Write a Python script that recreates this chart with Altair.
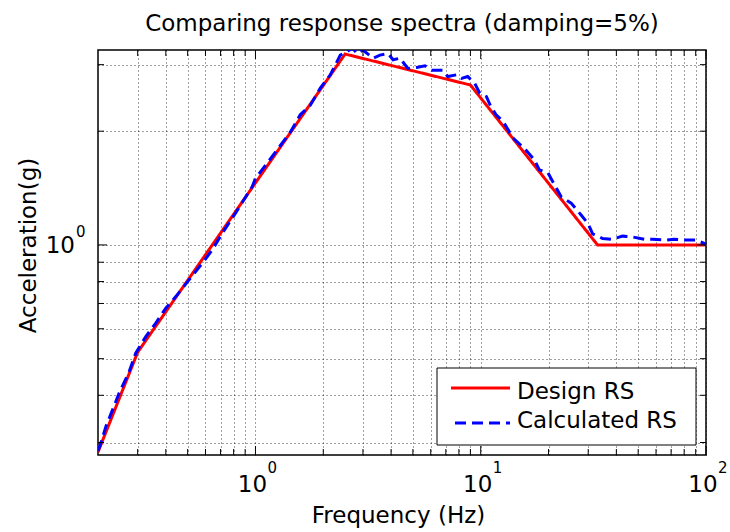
import altair as alt
import pandas as pd

TITLE = "Comparing response spectra (damping=5%)"
X_TITLE = "Frequency (Hz)"
Y_TITLE = "Acceleration(g)"
SERIES = ["Design RS", "Calculated RS"]
COLORS = ["#ff0000", "#0000ff"]

# Design response spectrum (piecewise log-log)
design_freq = [0.2, 0.3, 2.5, 9.0, 33.0, 100.0]
design_acc = [0.283, 0.52, 3.2, 2.65, 1.0, 1.0]

# Calculated response spectrum
calc_freq = [0.2, 0.206, 0.217, 0.232, 0.248, 0.275, 0.294, 0.326, 0.361, 0.40,
             0.443, 0.507, 0.581, 0.643, 0.712, 0.815, 0.967, 1.0, 1.2, 1.43,
             1.58, 1.75, 1.94, 2.15, 2.38, 2.55, 2.7, 2.82, 3.0, 3.33,
             3.57, 3.88, 4.08, 4.38, 4.75, 5.2, 5.65, 6.05, 6.79, 7.14,
             7.8, 8.22, 8.75, 9.4, 9.9, 10.6, 11.1, 11.7, 12.6, 13.9,
             15.0, 15.9, 17.3, 18.2, 19.9, 21.3, 22.8, 25.2, 27.9, 29.9,
             31.4, 34.8, 38.4, 42.6, 47.1, 53.2, 57.7, 66.3, 72.1, 81.3,
             90.0, 98.0, 100.0]
calc_acc = [0.285, 0.299, 0.331, 0.366, 0.405, 0.462, 0.517, 0.572, 0.621, 0.68,
            0.73, 0.808, 0.895, 0.97, 1.074, 1.213, 1.426, 1.50, 1.73, 1.99,
            2.21, 2.34, 2.60, 2.82, 3.18, 3.25, 3.32, 3.21, 3.28, 3.12,
            3.18, 3.21, 3.09, 3.12, 2.93, 2.95, 2.98, 2.90, 2.90, 2.79,
            2.82, 2.76, 2.79, 2.68, 2.52, 2.47, 2.32, 2.21, 2.12, 1.92,
            1.84, 1.78, 1.68, 1.58, 1.55, 1.44, 1.34, 1.29, 1.20, 1.14,
            1.07, 1.04, 1.035, 1.055, 1.05, 1.035, 1.035, 1.03, 1.035, 1.03,
            1.03, 1.01, 1.0]

x_domain = [0.2, 100]
y_domain = [0.278, 3.28]
x_grid = [0.3, 0.4, 0.5, 0.6, 0.7, 0.8, 0.9, 1, 2, 3, 4, 5, 6, 7, 8, 9,
          10, 20, 30, 40, 50, 60, 70, 80, 90, 100]
x_major = [1, 10, 100]
x_exp = ["0", "1", "2"]
y_grid = [0.3, 0.4, 0.5, 0.6, 0.7, 0.8, 0.9, 1, 2, 3]
y_major = [1]
y_exp = ["0"]
BASE = "10"

W, H = 608, 405
FONT = "DejaVu Sans"
FS = 23
FS_SUP = 15
BLACK = "#000000"

x_scale = alt.Scale(type="log", domain=x_domain, nice=False)
y_scale = alt.Scale(type="log", domain=y_domain, nice=False)

grid_style = dict(grid=True, gridDash=[1, 3], gridColor=BLACK, gridOpacity=0.75,
                  gridWidth=1, ticks=False, domain=False, labels=False,
                  titleFont=FONT, titleFontSize=FS, titleFontWeight="normal",
                  titleColor=BLACK)

x_axis = alt.Axis(values=x_grid, title=X_TITLE, titleX=300, titleY=60,
                  titleBaseline="middle", titleAlign="center", **grid_style)
y_axis = alt.Axis(values=y_grid, title=Y_TITLE, titleX=-70, titleY=195, titleAngle=-90,
                  titleBaseline="middle", titleAlign="center", **grid_style)

color = alt.Color("series:N", scale=alt.Scale(domain=SERIES, range=COLORS), legend=None)
dash = alt.StrokeDash("series:N", scale=alt.Scale(domain=SERIES, range=[[1, 0], [11, 6]]),
                      legend=None)

df_design = pd.DataFrame({"freq": design_freq, "acc": design_acc, "series": SERIES[0]})
df_calc = pd.DataFrame({"freq": calc_freq, "acc": calc_acc, "series": SERIES[1]})

design_line = alt.Chart(df_design).mark_line(strokeWidth=3, clip=True).encode(
    x=alt.X("freq:Q", scale=x_scale, axis=x_axis),
    y=alt.Y("acc:Q", scale=y_scale, axis=y_axis),
    color=color, strokeDash=dash)
calc_line = alt.Chart(df_calc).mark_line(strokeWidth=3, clip=True).encode(
    x=alt.X("freq:Q", scale=x_scale), y=alt.Y("acc:Q", scale=y_scale),
    color=color, strokeDash=dash)

# inward tick marks on all four sides
df_xt = pd.DataFrame({"freq": [v for v in x_grid if v not in x_major]})
df_xT = pd.DataFrame({"freq": x_major})
df_yt = pd.DataFrame({"acc": [v for v in y_grid if v not in y_major]})
df_yT = pd.DataFrame({"acc": y_major})


def xticks(df, ln):
    c = alt.Chart(df)
    bottom = c.mark_rule(color=BLACK, strokeWidth=1).encode(
        x=alt.X("freq:Q", scale=x_scale), y=alt.value(H), y2=alt.value(H - ln))
    top = c.mark_rule(color=BLACK, strokeWidth=1).encode(
        x=alt.X("freq:Q", scale=x_scale), y=alt.value(0), y2=alt.value(ln))
    return [bottom, top]


def yticks(df, ln):
    c = alt.Chart(df)
    left = c.mark_rule(color=BLACK, strokeWidth=1).encode(
        y=alt.Y("acc:Q", scale=y_scale), x=alt.value(0), x2=alt.value(ln))
    right = c.mark_rule(color=BLACK, strokeWidth=1).encode(
        y=alt.Y("acc:Q", scale=y_scale), x=alt.value(W), x2=alt.value(W - ln))
    return [left, right]


# tick labels 10^n as base + superscript
df_xl = pd.DataFrame({"freq": x_major, "base": BASE, "exp": x_exp})
df_yl = pd.DataFrame({"acc": y_major, "base": BASE, "exp": y_exp})

x_base_lbl = alt.Chart(df_xl).mark_text(font=FONT, fontSize=FS, color=BLACK, align="center",
                                        baseline="alphabetic", dx=-3).encode(
    x=alt.X("freq:Q", scale=x_scale), y=alt.value(H + 37), text="base:N")
x_exp_lbl = alt.Chart(df_xl).mark_text(font=FONT, fontSize=FS_SUP, color=BLACK, align="left",
                                       baseline="alphabetic", dx=12).encode(
    x=alt.X("freq:Q", scale=x_scale), y=alt.value(H + 18), text="exp:N")
y_base_lbl = alt.Chart(df_yl).mark_text(font=FONT, fontSize=FS, color=BLACK, align="right",
                                        baseline="alphabetic", dy=8).encode(
    y=alt.Y("acc:Q", scale=y_scale), x=alt.value(-23), text="base:N")
y_exp_lbl = alt.Chart(df_yl).mark_text(font=FONT, fontSize=FS_SUP, color=BLACK, align="left",
                                       baseline="alphabetic", dy=-8).encode(
    y=alt.Y("acc:Q", scale=y_scale), x=alt.value(-22), text="exp:N")

# legend box (drawn manually so the line samples are long like the original)
df_leg = pd.DataFrame({"series": SERIES, "row": [0, 1]})
leg_box = alt.Chart(pd.DataFrame({"k": [0]})).mark_rect(
    fill="#ffffff", stroke=BLACK, strokeWidth=1).encode(
    x=alt.value(339), x2=alt.value(598), y=alt.value(318), y2=alt.value(395))
leg_red = alt.Chart(df_leg.iloc[[0]]).mark_rule(strokeWidth=3).encode(
    x=alt.value(353), x2=alt.value(412), y=alt.value(338), color=color, strokeDash=dash)
leg_blue = alt.Chart(df_leg.iloc[[1]]).mark_rule(strokeWidth=3).encode(
    x=alt.value(357), x2=alt.value(412), y=alt.value(373), color=color, strokeDash=dash)
leg_t1 = alt.Chart(df_leg.iloc[[0]]).mark_text(
    font=FONT, fontSize=FS, color=BLACK, align="left", baseline="alphabetic").encode(
    x=alt.value(419), y=alt.value(349), text="series:N")
leg_t2 = alt.Chart(df_leg.iloc[[1]]).mark_text(
    font=FONT, fontSize=FS, color=BLACK, align="left", baseline="alphabetic").encode(
    x=alt.value(419), y=alt.value(378), text="series:N")

layers = [design_line, calc_line] + xticks(df_xt, 6) + xticks(df_xT, 9) + \
    yticks(df_yt, 6) + yticks(df_yT, 9) + \
    [x_base_lbl, x_exp_lbl, y_base_lbl, y_exp_lbl,
     leg_box, leg_red, leg_blue, leg_t1, leg_t2]

chart = alt.layer(*layers).properties(
    width=W, height=H,
    title=alt.TitleParams(TITLE, font=FONT, fontSize=FS, fontWeight="normal",
                          color=BLACK, anchor="middle", offset=14),
    autosize=alt.AutoSizeParams(type="none"),
    padding={"left": 98, "top": 50, "right": 24, "bottom": 77},
    background="#ffffff",
).configure_view(stroke=BLACK, strokeWidth=1.5)

chart.save("out.html", embed_options={"renderer": "svg", "actions": False})
